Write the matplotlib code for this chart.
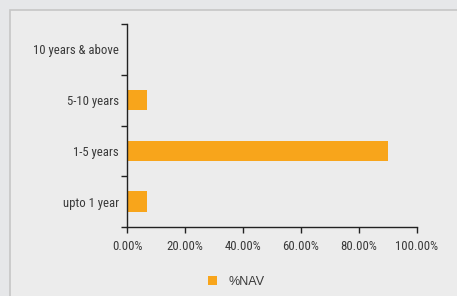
import matplotlib.pyplot as plt
from matplotlib.patches import Rectangle
from matplotlib.ticker import PercentFormatter
from matplotlib import font_manager

categories = ["upto 1 year", "1-5 years", "5-10 years", "10 years & above"]
nav = [6.9, 90.0, 6.9, 0.0]
series_name = "%NAV"

# pick a narrow sans face, like the original's Arial Narrow look
fam = "DejaVu Sans"
for want in ["LiberationSansNarrow-Regular", "RobotoCondensed-Regular",
             "ArchivoNarrow-Regular", "DejaVuSansCondensed."]:
    hit = [f for f in font_manager.fontManager.ttflist if want in f.fname]
    if hit:
        fam = hit[0].name
        break
plt.rcParams["font.family"] = [fam, "DejaVu Sans"]

fig = plt.figure(figsize=(4.57, 2.96), dpi=100)
fig.patch.set_facecolor("#e6e7e9")
fig.patches.append(Rectangle((10 / 457, -0.1), 1.2, 1 - 10 / 296 + 0.1,
                             transform=fig.transFigure, facecolor="#ececec",
                             edgecolor="#c6c6c6", linewidth=1.2, zorder=-5))

ax = fig.add_axes([127 / 457, 1 - 227 / 296, 290 / 457, 203 / 296])
ax.set_facecolor("none")
y = range(len(categories))
bars = ax.barh(y, nav, height=0.4, color="#f8a51b", label=series_name)

ax.set_xlim(0, 100)
ax.set_ylim(-0.5, len(categories) - 0.5)
ax.xaxis.set_major_formatter(PercentFormatter(decimals=2))
ax.set_xticks(range(0, 101, 20))
ax.set_yticks([i - 0.5 for i in range(len(categories) + 1)])
ax.set_yticklabels([])
ax.set_yticks(list(y), minor=True)
ax.set_yticklabels(categories, minor=True)
ax.tick_params(axis="y", which="major", length=4, width=1, color="#222222")
ax.tick_params(axis="y", which="minor", length=0, pad=6, labelsize=9.2, labelcolor="#3a3a3a")
ax.tick_params(axis="x", length=4, width=1, color="#222222", labelsize=9.2,
               labelcolor="#3a3a3a", pad=5)
for s in ["top", "right"]:
    ax.spines[s].set_visible(False)
for s in ["left", "bottom"]:
    ax.spines[s].set_color("#222222")
    ax.spines[s].set_linewidth(1)

fig.legend(handles=[bars], labels=[series_name], loc="center",
           bbox_to_anchor=(236 / 457, 1 - 282 / 296), frameon=False,
           prop={"family": ["Liberation Sans", "DejaVu Sans"], "size": 9},
           handlelength=0.75, handleheight=0.75, handletextpad=0.9,
           labelcolor="#3a3a3a")

fig.savefig("out.png", dpi=100, facecolor=fig.get_facecolor())
